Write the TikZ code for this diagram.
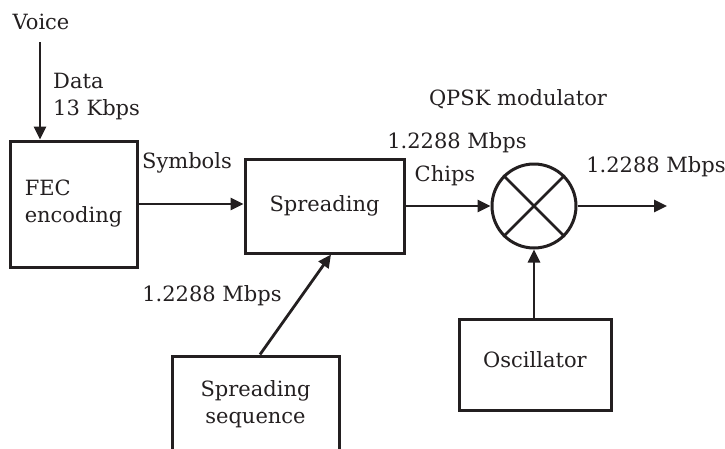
\documentclass[tikz,border=0pt]{standalone}
\usepackage{fontspec}
\setmainfont{DejaVu Serif}
\usetikzlibrary{arrows.meta}
\definecolor{ink}{HTML}{231F20}
\tikzset{
  every node/.style={text=ink, inner sep=0pt, font=\fontsize{21}{27}\selectfont},
  blk/.style={draw=ink, line width=3pt, align=center},
  arr/.style={draw=ink, line width=2.8pt, -{Triangle[length=13pt,width=12pt]}},
  ln/.style={draw=ink, line width=2.8pt}
}
\begin{document}
\begin{tikzpicture}[x=1pt,y=-1pt]
\useasboundingbox (0,0) rectangle (725,448);
% boxes
\node[blk, minimum width=127pt, minimum height=126pt, align=left] (fec) at (73.5,204) {FEC\\encoding};
\node[blk, minimum width=159pt, minimum height=94pt] (spread) at (324.5,206) {Spreading};
\node[blk, circle, minimum size=84pt] (mix) at (534,206) {};
\node[blk, minimum width=152pt, minimum height=91pt] (osc) at (535,364.5) {};
\node (osctxt) at (535,360) {Oscillator};
\node[blk, minimum width=167pt, minimum height=96pt] (ss) at (255.5,404) {Spreading\\sequence};
% labels
\node (voice) at (41,22) {Voice};
\node[align=left, anchor=west] (data) at (53,96.5) {Data\\13 Kbps};
\node (sym) at (187,163) {Symbols};
\node (rate1) at (457,143) {1.2288 Mbps};
\node (chips) at (445,176) {Chips};
\node (qpsk) at (518,99) {QPSK modulator};
\node (rate2) at (656,167) {1.2288 Mbps};
\node (rate3) at (212,296) {1.2288 Mbps};
% cross in mixer
\draw[ln] (mix.north west) -- (mix.south east);
\draw[ln] (mix.north east) -- (mix.south west);
% connectors
\coordinate (vin) at (40,42);
\coordinate (out) at (667,206);
\draw[arr] (vin) -- (vin |- fec.north);
\draw[arr] (fec.east) -- (fec.east -| spread.west);
\draw[arr] (spread.east) -- (mix.west);
\draw[arr] (mix.east) -- (out);
\draw[arr] (osc.north -| mix.south) -- (mix.south);
\draw[arr] ([xshift=4.5pt]ss.north) -- ([xshift=6.5pt]spread.south);
\end{tikzpicture}
\end{document}
